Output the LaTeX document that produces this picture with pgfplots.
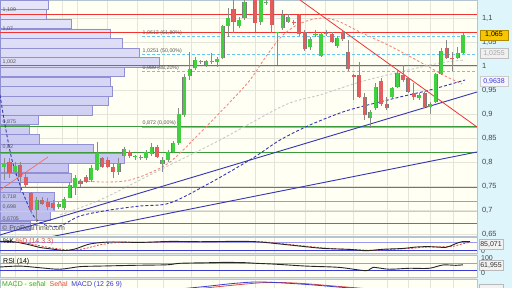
\documentclass[border=0pt]{standalone}
\usepackage{fontspec}
\setmainfont{Liberation Sans}
\usepackage{pgfplots}
\pgfplotsset{compat=1.18}
\usepackage{pgfplotstable}

\definecolor{cream}{HTML}{FFFFF4}
\definecolor{sidebg}{HTML}{DEF6FB}
\definecolor{gridc}{HTML}{E4E4DA}
\definecolor{framec}{HTML}{B4C4D0}
\definecolor{sepc}{HTML}{DCE2E8}
\definecolor{vptop}{HTML}{E6E6FA}
\definecolor{vpbot}{HTML}{BABAEC}
\definecolor{vpdraw}{HTML}{9090D2}
\definecolor{hgreen}{HTML}{3C9A3C}
\definecolor{mgreen}{HTML}{78BE78}
\definecolor{pgreen}{HTML}{B0DEB0}
\definecolor{hred}{HTML}{F03434}
\definecolor{fibblue}{HTML}{66C8F0}
\definecolor{cgreen}{HTML}{40D040}
\definecolor{cred}{HTML}{E25E5E}
\definecolor{outl}{HTML}{7C7C7C}
\definecolor{wick}{HTML}{8A8A8A}
\definecolor{tblue}{HTML}{3636B2}
\definecolor{salmon}{HTML}{F0887E}
\definecolor{lgray}{HTML}{C8C8C8}
\definecolor{tickc}{HTML}{444444}
\definecolor{txtc}{HTML}{555555}
\definecolor{lblue}{HTML}{9A9AF2}
\definecolor{dblue}{HTML}{3A3AD6}
\definecolor{stochred}{HTML}{E04848}
\definecolor{tagy}{HTML}{F7C600}
\definecolor{macdgreen}{HTML}{33AA33}

\pgfplotstableread{
i O H L C
0 0.7896 0.8077 0.7625 0.7952
1 0.7994 0.8083 0.7667 0.7765
2 0.7798 0.8006 0.7729 0.7917
3 0.7938 0.8006 0.7590 0.7694
4 0.7694 0.7798 0.7452 0.7521
5 0.7348 0.7381 0.6931 0.7000
6 0.7000 0.7277 0.6756 0.7208
7 0.7208 0.7277 0.7104 0.7119
8 0.7173 0.7244 0.7000 0.7069
9 0.7140 0.7208 0.7000 0.7048
10 0.7069 0.7173 0.7021 0.7125
11 0.7048 0.7277 0.7000 0.7229
12 0.7256 0.7590 0.7244 0.7521
13 0.7452 0.7729 0.7313 0.7660
14 0.7604 0.7646 0.7485 0.7535
15 0.7694 0.7729 0.7556 0.7590
16 0.7625 0.7938 0.7590 0.7869
17 0.7833 0.8423 0.7813 0.8181
18 0.8077 0.8110 0.7869 0.7902
19 0.8042 0.8110 0.7869 0.7902
20 0.7902 0.7973 0.7660 0.7798
21 0.7798 0.8077 0.7729 0.7973
22 0.8125 0.8319 0.8110 0.8265
23 0.8208 0.8250 0.8083 0.8131
24 0.8104 0.8146 0.8042 0.8125
25 0.8077 0.8146 0.8042 0.8110
26 0.8077 0.8250 0.8042 0.8215
27 0.8167 0.8396 0.8125 0.8319
28 0.8319 0.8354 0.8083 0.8110
29 0.7958 0.8104 0.7798 0.8042
30 0.8042 0.8250 0.8000 0.8215
31 0.8215 0.8438 0.8188 0.8390
32 0.8402 0.9125 0.8354 0.9000
33 0.8979 0.9833 0.8938 0.9777
34 0.9792 1.0292 0.9708 0.9938
35 0.9952 1.0194 0.9917 1.0125
36 1.0077 1.0125 1.0042 1.0097
37 1.0021 1.0125 0.9985 1.0104
38 1.0083 1.0265 1.0042 1.0104
39 1.0090 1.0194 0.9985 1.0140
40 1.0160 1.0854 1.0140 1.0833
41 1.0833 1.1202 1.0610 1.0994
42 1.1181 1.1375 1.0688 1.0923
43 1.0833 1.1027 1.0785 1.0958
44 1.0994 1.1479 1.0958 1.1340
45 1.1450 1.1600 1.1390 1.1550
46 1.1583 1.1688 1.0715 1.0902
47 1.0923 1.1583 1.0854 1.1479
48 1.1306 1.1375 1.1271 1.1340
49 1.1438 1.1542 1.0688 1.0854
50 1.0677 1.0708 1.0021 1.0698
51 1.0785 1.1167 1.0750 1.1063
52 1.0923 1.1083 1.0896 1.1027
53 1.0917 1.0958 1.0854 1.0896
54 1.1063 1.1083 1.0625 1.0660
55 1.0702 1.0750 1.0313 1.0348
56 1.0390 1.0604 1.0333 1.0556
57 1.0646 1.0750 1.0604 1.0667
58 1.0208 1.0708 1.0188 1.0667
59 1.0656 1.0750 1.0625 1.0677
60 1.0667 1.0708 1.0479 1.0506
61 1.0417 1.0625 1.0375 1.0577
62 1.0702 1.0729 1.0521 1.0556
63 1.0298 1.0542 0.9896 0.9931
64 0.9813 0.9833 0.9292 0.9777
65 0.9813 1.0090 0.9333 0.9360
66 0.9348 0.9438 0.8875 0.8979
67 0.8910 0.9083 0.8708 0.9048
68 0.9119 0.9646 0.9083 0.9556
69 0.9694 0.9744 0.9167 0.9208
70 0.9208 0.9360 0.9083 0.9119
71 0.9360 0.9569 0.9327 0.9535
72 0.9569 0.9917 0.9535 0.9860
73 0.9813 1.0021 0.9673 0.9708
74 0.9744 0.9777 0.9431 0.9465
75 0.9444 0.9646 0.9292 0.9360
76 0.9327 0.9431 0.9292 0.9396
77 0.9431 0.9465 0.9119 0.9140
78 0.9152 0.9256 0.9010 0.9202
79 0.9256 0.9860 0.9223 0.9833
80 0.9833 1.0369 0.9813 1.0319
81 1.0369 1.0542 1.0140 1.0160
82 1.0160 1.0298 0.9902 1.0140
83 1.0160 1.0402 1.0140 1.0277
84 1.0265 1.0681 1.0250 1.0646
}\candles

\pgfplotsset{
  chartpanel/.style={
    scale only axis, width=477pt, anchor=south west,
    xmin=0, xmax=477,
    axis background/.style={fill=cream},
    axis line style={draw=framec, line width=0.6pt},
    xtick={15,37,62,77,107,137,163,191,219,255,274,305,325,353,387,408,430,453},
    xticklabels={}, xmajorgrids,
    grid style={draw=gridc, line width=0.5pt},
    major tick length=0pt,
    tick style={draw=none},
  },
  errbody/.style={draw=none, mark=none, forget plot,
    error bars/y dir=plus, error bars/y explicit, error bars/error mark=none},
}
\tikzset{
  small/.style={font=\fontsize{5.3}{6}\selectfont, text=txtc, inner sep=0.5pt},
  tag/.style={minimum width=27pt, minimum height=10pt, inner sep=0pt, font=\fontsize{7}{8}\selectfont},
}

\begin{document}
\begin{tikzpicture}
\useasboundingbox (0,0) rectangle (512pt,288pt);
\fill[sepc] (0,0) rectangle (477pt,288pt);
\fill[sidebg] (477pt,0) rectangle (512pt,288pt);

% ---------- main panel: profile, levels, trendlines, averages ----------
\begin{axis}[chartpanel, at={(0pt,52pt)}, height=236pt,
  ymin=0.6458, ymax=1.1375,
  ytick={0.65,0.7,0.75,0.8,0.85,0.9,0.95,1,1.05,1.1}, ymajorgrids,
  yticklabel pos=right,
  yticklabel style={font=\fontsize{7.5}{8}\selectfont, text=tickc, xshift=1.5pt,
    /pgf/number format/.cd, use comma, fixed, precision=2, assume math mode=true},
]
% volume profile
\addplot [xbar, bar width=0.0198, bar shift=0pt, draw=vpdraw, line width=0.5pt,
  top color=vptop, bottom color=vpbot] coordinates {
 (48.7,1.1275) (46.7,1.1075) (71,1.0875) (110,1.0675) (122,1.0475) (139,1.0275)
 (159,1.0075) (124,0.9875) (110,0.9675) (112,0.9475) (108,0.9275) (92,0.9075)
 (38,0.8875) (29,0.8675) (39,0.8475) (93,0.8275) (124,0.8075) (68,0.7875)
 (71,0.7675) (20,0.7475) (54,0.7275) (54,0.7075) (50,0.6875) (30,0.6675)};
% horizontal levels
\addplot [hred, line width=0.8pt] coordinates {(0,1.108) (477,1.108)};
\addplot [hred, line width=0.8pt] coordinates {(0,1.0694) (477,1.0694)};
\addplot [fibblue, line width=0.8pt, dash pattern=on 3pt off 2pt] coordinates {(142,1.0613) (477,1.0613)};
\addplot [fibblue, line width=0.8pt, dash pattern=on 3pt off 2pt] coordinates {(142,1.0251) (477,1.0251)};
\addplot [fibblue, line width=0.8pt, dash pattern=on 3pt off 2pt] coordinates {(142,0.9889) (477,0.9889)};
\addplot [fibblue, line width=1.3pt] coordinates {(142,0.8715) (477,0.8715)};
\addplot [hgreen, line width=0.8pt] coordinates {(0,1.0011) (477,1.0011)};
\addplot [hgreen, line width=0.8pt] coordinates {(0,0.875) (477,0.875)};
\addplot [hgreen, line width=0.8pt] coordinates {(0,0.8205) (477,0.8205)};
\addplot [hgreen, line width=0.8pt] coordinates {(0,0.7472) (477,0.7472)};
\addplot [mgreen, line width=0.8pt] coordinates {(0,0.718) (477,0.718)};
\addplot [pgreen, line width=1.3pt] coordinates {(0,0.6965) (477,0.6965)};
\addplot [hgreen, line width=0.8pt] coordinates {(0,0.672) (477,0.672)};
% moving averages
\addplot [lgray, line width=0.9pt, dash pattern=on 2.5pt off 2pt, smooth] coordinates {
 (60,0.6896) (100,0.7208) (140,0.7625) (170,0.7938) (220,0.8458) (285,0.9188)
 (320,0.9396) (360,0.9667) (400,0.9875) (440,1.0063) (465,1.0125)};
\addplot [salmon, line width=0.9pt, dash pattern=on 2.5pt off 2pt, smooth] coordinates {
 (70,0.7625) (100,0.7583) (125,0.7604) (145,0.7729) (170,0.8000) (200,0.8604)
 (232,0.9292) (250,0.9708) (265,1.0167) (280,1.0583) (295,1.0833) (310,1.0958)
 (325,1.1000) (340,1.0917) (360,1.0708) (390,1.0417) (420,1.0083) (445,0.9792) (462,0.9625)};
\addplot [tblue, line width=0.9pt, dash pattern=on 3pt off 2pt, smooth] coordinates {
 (0,0.9396) (5,0.8771) (12,0.8042) (20,0.7521) (28,0.7104) (35,0.6833) (45,0.6688)
 (60,0.6667) (80,0.6875) (110,0.7000) (140,0.7083) (170,0.7146) (210,0.7563)
 (253,0.8083) (280,0.8458) (310,0.8771) (340,0.9021) (360,0.9146) (400,0.9354)
 (430,0.9500) (465,0.9708)};
% trendlines
\addplot [tblue, line width=0.9pt] coordinates {(0,0.6479) (477,0.9458)};
\addplot [tblue, line width=0.9pt] coordinates {(40,0.6396) (477,0.8208)};
\addplot [hred, line width=0.8pt] coordinates {(300,1.1375) (477,0.8729)};
\addplot [salmon!80!red, line width=0.7pt] coordinates {(0,0.7417) (48,0.8104)};
% texts
\node[small, anchor=west] at (axis cs:2,1.1167) {1,109};
\node[small, anchor=west] at (axis cs:2,1.0777) {1,07};
\node[small, anchor=west] at (axis cs:2,1.0090) {1,002};
\node[small, anchor=west] at (axis cs:2,0.8833) {0,875};
\node[small, anchor=west] at (axis cs:2,0.8313) {0,82};
\node[small, anchor=west] at (axis cs:2,0.7271) {0,718};
\node[small, anchor=west] at (axis cs:2,0.7052) {0,698};
\node[small, anchor=west] at (axis cs:2,0.6802) {0,6705};
\node[small, anchor=west] at (axis cs:142,1.0681) {1,0613 (61,80\%)};
\node[small, anchor=west] at (axis cs:142,1.0319) {1,0251 (50,00\%)};
\node[small, anchor=west] at (axis cs:142,0.9952) {0,989 (38,20\%)};
\node[small, anchor=west] at (axis cs:142,0.8806) {0,872 (0,00\%)};
\node[anchor=west, font=\fontsize{7}{8}\selectfont, text=txtc, inner sep=0pt] at (axis cs:2,0.6615) {\copyright\ ProRealTime.com};
\end{axis}

% ---------- candles ----------
\begin{axis}[scale only axis, width=477pt, height=236pt, at={(0pt,52pt)}, anchor=south west,
  xmin=-0.732, xmax=86.55, ymin=0.6458, ymax=1.1375, hide axis]
\addplot [errbody, error bars/error bar style={line width=0.8pt, draw=wick}]
  table [x=i, y=L, y error plus expr={\thisrow{H}-\thisrow{L}}] {\candles};
\addplot [errbody, error bars/error bar style={line width=4.1pt, draw=outl}]
  table [x=i, y expr={min(\thisrow{O},\thisrow{C})}, y error plus expr={abs(\thisrow{C}-\thisrow{O})}] {\candles};
\addplot [errbody, error bars/error bar style={line width=3.3pt, draw=cgreen}]
  table [x=i, y=O, y error plus expr={max(\thisrow{C}-\thisrow{O},0)}] {\candles};
\addplot [errbody, error bars/error bar style={line width=3.3pt, draw=cred}]
  table [x=i, y=C, y error plus expr={max(\thisrow{O}-\thisrow{C},0)}] {\candles};
\end{axis}

% ---------- stochastic ----------
\begin{axis}[chartpanel, at={(0pt,35pt)}, height=15.5pt, ymin=3.6, ymax=114, ytick=\empty]
\addplot [lblue, line width=1.1pt] coordinates {(0,80) (477,80)};
\addplot [dblue, line width=0.8pt] coordinates {(0,20) (477,20)};
\addplot [stochred, line width=0.8pt, dash pattern=on 2pt off 1.5pt, smooth] coordinates {
 (0,84) (20,80) (35,62) (48,44) (62,30) (72,24) (85,35) (100,62) (120,80) (150,80)
 (180,84) (210,84) (240,85) (265,82) (298,58) (330,36) (358,27) (374,22) (392,30)
 (410,36) (424,45) (438,48) (452,50) (462,68) (470,80)};
\addplot [black!85, line width=0.9pt, smooth] coordinates {
 (0,86) (15,82) (30,61) (40,43) (55,29) (65,21) (75,32) (90,68) (110,82) (140,79)
 (170,86) (200,84) (230,86) (256,84) (289,61) (322,37) (350,29) (366,20) (383,30)
 (403,36) (416,46) (429,49) (446,44) (455,68) (462,84) (470,84)};
\end{axis}

% ---------- RSI ----------
\begin{axis}[chartpanel, at={(0pt,11pt)}, height=22pt, ymin=-4, ymax=114.9, ytick=\empty]
\addplot [lblue, line width=1.1pt] coordinates {(0,70) (477,70)};
\addplot [dblue, line width=0.8pt] coordinates {(0,30) (477,30)};
\addplot [black!85, line width=0.9pt, smooth] coordinates {
 (0,50) (20,55) (40,46) (60,38) (80,52) (100,55) (133,59) (167,62) (180,70) (207,73)
 (227,75) (247,73) (256,70) (276,65) (306,55) (339,48) (366,30) (373,48) (389,38)
 (409,43) (429,43) (443,61) (456,59) (463,62)};
\end{axis}

% ---------- MACD ----------
\begin{axis}[chartpanel, at={(0pt,-3.5pt)}, height=12pt, ymin=-6.5, ymax=5.5, ytick=\empty]
\addplot [stochred, line width=0.8pt, smooth] coordinates {
 (170,-6) (200,-3.5) (230,-0.5) (255,1.8) (270,2.6) (290,2.2) (310,1) (330,-0.7) (350,-2.3) (370,-4) (390,-5.5)};
\addplot [dblue, line width=0.8pt, smooth] coordinates {
 (170,-5) (190,-3) (210,-1) (230,1.2) (250,2.8) (262,3) (280,2.2) (300,1) (320,-0.5)
 (340,-2.2) (360,-3.6) (380,-5) (400,-6)};
\end{axis}

% ---------- panel labels ----------
\node[anchor=west, font=\fontsize{7}{8}\selectfont, inner sep=0pt] at (3pt,46pt)
  {\textcolor{black}{\%K} \textcolor{stochred}{\%D (14 3 3)}};
\node[anchor=west, font=\fontsize{7}{8}\selectfont, inner sep=0pt] at (3pt,26.5pt) {RSI (14)};
\node[anchor=west, font=\fontsize{7}{8}\selectfont, inner sep=0pt] at (2pt,3pt)
  {\textcolor{macdgreen}{MACD - señal}\ \ \textcolor{stochred}{Señal}\ \ \textcolor{dblue}{MACD (12 26 9)}};

% ---------- right side tags ----------
\node[tag, fill=tagy, draw=tagy!70!black, text=black, minimum width=28pt] at (494pt,253.2pt) {1,065};
\node[tag, fill=gray!12, draw=gray!50, text=gray!70, minimum width=28pt] at (494pt,234.3pt) {1,0255};
\node[tag, fill=white!96!blue, draw=gray!40, text=dblue, minimum width=28pt] at (494pt,206.5pt) {0,9638};
\node[anchor=west, font=\fontsize{7}{8}\selectfont, text=tickc, inner sep=0pt] at (481pt,37pt) {0};
\node[tag, fill=gray!10, draw=gray!55, text=black!80, minimum width=24pt] at (491pt,43.7pt) {85,071};
\node[anchor=west, font=\fontsize{7}{8}\selectfont, text=tickc, inner sep=0pt] at (481pt,29.5pt) {100};
\node[tag, fill=gray!10, draw=gray!55, text=black!80, minimum width=24pt] at (491pt,22.5pt) {61,955};
\node[anchor=west, font=\fontsize{7}{8}\selectfont, text=tickc, inner sep=0pt] at (481pt,14.5pt) {0};
\node[tag, fill=gray!10, draw=gray!55, minimum width=24pt] at (491pt,-1pt) {};
\end{tikzpicture}
\end{document}
